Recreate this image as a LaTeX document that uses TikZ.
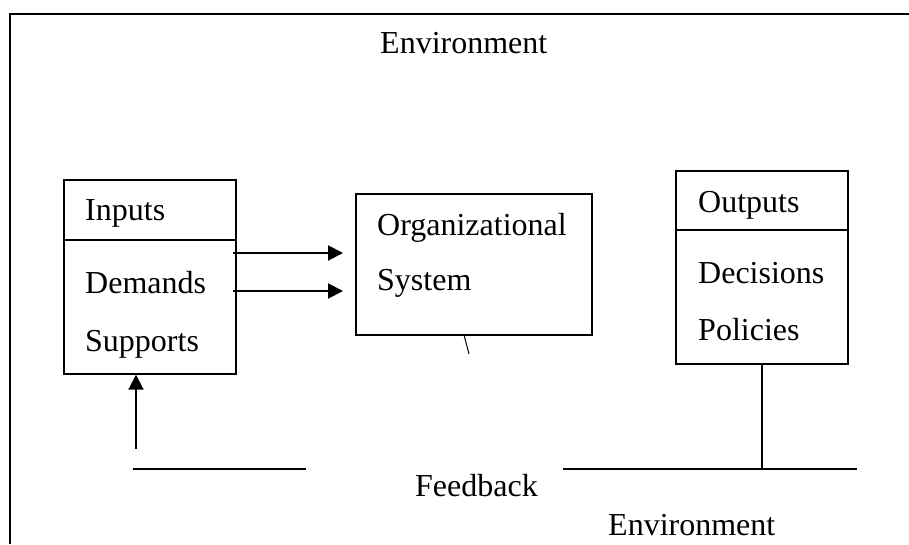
\documentclass[tikz,border=0pt]{standalone}
\usepackage{fontspec}
\setmainfont{Liberation Serif}
\usetikzlibrary{arrows.meta}
\begin{document}
\begin{tikzpicture}[x=1pt,y=-1pt,
  every node/.style={font=\fontsize{32}{38}\selectfont},
  label/.style={anchor=base west, inner sep=0pt},
  boxshape/.style={draw, line width=1.4pt, minimum width=#1, inner sep=0pt},
  frameline/.style={line width=1.8pt},
  flowarrow/.style={line width=2pt, -{Triangle[length=15pt,width=15pt]}},
  plainline/.style={line width=1.4pt},
  thinline/.style={line width=1pt}]
\useasboundingbox (0,0) rectangle (909,544);

% outer frame, open at the right and bottom
\coordinate (fbl) at (10,544);
\coordinate (ftl) at (10,14);
\coordinate (ftr) at (909,14);
\draw[frameline] (fbl) -- (ftl) -- (ftr);

% boxes
\node[boxshape=172pt, minimum height=194pt] (inp) at (150,277) {};
\node[boxshape=236pt, minimum height=141pt] (org) at (474,264.5) {};
\node[boxshape=172pt, minimum height=193pt] (outp) at (762,267.5) {};
\draw[plainline] (inp.west |- 0,240) -- (inp.east |- 0,240);
\draw[plainline] (outp.west |- 0,230) -- (outp.east |- 0,230);

% texts
\node[label] (tenv) at (380,53) {Environment};
\node[label] (tin) at (85,220) {Inputs};
\node[label] (tdem) at (85,293) {Demands};
\node[label] (tsup) at (85,351) {Supports};
\node[label] (torg) at (377,235) {Organizational};
\node[label] (tsys) at (377,290) {System};
\node[label] (tout) at (698,212) {Outputs};
\node[label] (tdec) at (698,283) {Decisions};
\node[label] (tpol) at (698,340) {Policies};
\node[label] (tfb) at (415,496) {Feedback};
\node[label] (benv) at (608,535) {Environment};

% arrows into the organizational system
\coordinate (a1s) at (233,253);
\coordinate (a1e) at (343,253);
\coordinate (a2s) at (233,291);
\coordinate (a2e) at (343,291);
\draw[flowarrow] (a1s) -- (a1e);
\draw[flowarrow] (a2s) -- (a2e);

% feedback loop
\coordinate (fbs) at (136,449);
\draw[flowarrow] (fbs) -- (fbs |- inp.south);
\coordinate (bl1) at (133,469);
\coordinate (bl2) at (306,469);
\draw[plainline] (bl1) -- (bl2);
\coordinate (br1) at (563,469);
\coordinate (br2) at (857,469);
\draw[plainline] (br1) -- (br2);
\draw[plainline] (outp.south) -- (outp.south |- br1);

% small tick below the system box
\coordinate (tk1) at (464,335);
\coordinate (tk2) at (469,354);
\draw[thinline] (tk1) -- (tk2);
\end{tikzpicture}
\end{document}
